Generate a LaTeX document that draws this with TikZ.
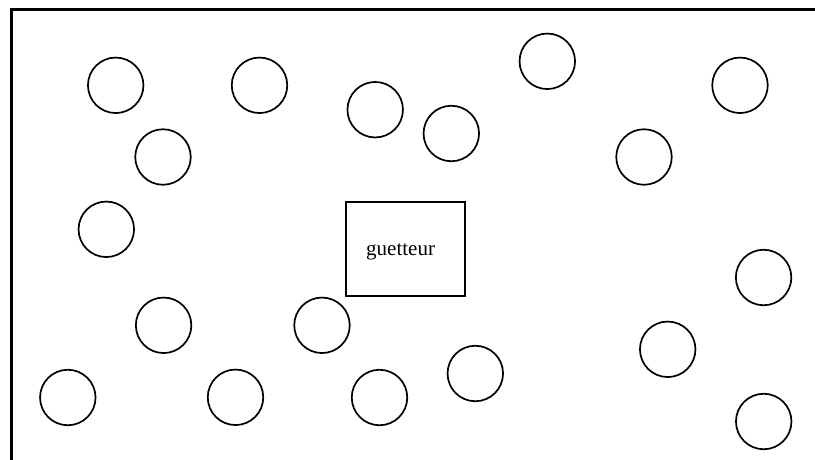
\documentclass[tikz,border=0pt]{standalone}
\usepackage{fontspec}
\setmainfont{Liberation Serif}
\begin{document}
\begin{tikzpicture}[x=1pt,y=-1pt,
  ring/.style={circle,draw=black,line width=1.7pt,minimum size=55.5pt,inner sep=0pt},
  frame/.style={draw=black,line width=2.2pt},
  guardbox/.style={draw=black,line width=1.7pt}]
\useasboundingbox (0,0) rectangle (815,459);
\begin{scope}
\clip (0,0) rectangle (815,459);
\draw[frame] (11.5,9.5) rectangle (830,475);
\end{scope}
\node[ring] (c1) at (115.7,85.3) {};
\node[ring] (c2) at (259.5,85.3) {};
\node[ring] (c3) at (375.2,109.7) {};
\node[ring] (c4) at (451.3,133.5) {};
\node[ring] (c5) at (547.3,61.3) {};
\node[ring] (c6) at (740,85.3) {};
\node[ring] (c7) at (163,157) {};
\node[ring] (c8) at (644,157) {};
\node[ring] (c9) at (106.3,229.3) {};
\node[ring] (c10) at (763.6,277.5) {};
\node[ring] (c11) at (163.6,325.3) {};
\node[ring] (c12) at (322,325.3) {};
\node[ring] (c13) at (667.7,349.3) {};
\node[ring] (c14) at (475.3,373.5) {};
\node[ring] (c15) at (67.8,397.5) {};
\node[ring] (c16) at (235.5,397.3) {};
\node[ring] (c17) at (379.5,397.5) {};
\node[ring] (c18) at (763.7,421.5) {};
\draw[guardbox] (346,202) rectangle (465,296);
\node[anchor=base west,inner sep=0pt,font=\fontsize{21}{24}\selectfont] (g) at (366,255.7) {guetteur};
\end{tikzpicture}
\end{document}
